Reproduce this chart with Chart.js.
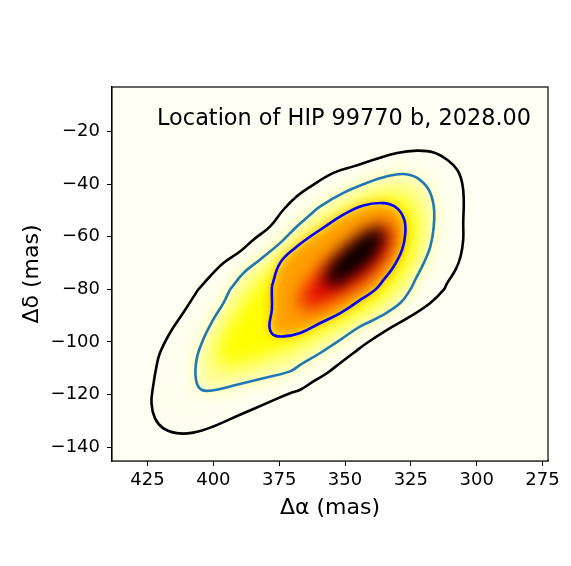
<!DOCTYPE html>
<html>
<head>
<meta charset="utf-8">
<script src="https://cdn.jsdelivr.net/npm/chart.js@4"></script>
<style>
  html, body { margin: 0; padding: 0; background: #fff; }
  #wrap { width: 571px; height: 566px; }
</style>
</head>
<body>
<div id="wrap"><canvas id="kdeChart" width="571" height="566"></canvas></div>
<script>
const FONT = "'DejaVu Sans', 'Liberation Sans', sans-serif";

// axes (Δα runs right to left)
const xRange = [272.9, 438.5];
const yRange = [-145.3, -3.0];
const xTicks = [425, 400, 375, 350, 325, 300, 275];
const yTicks = [-20, -40, -60, -80, -100, -120, -140];
const annotation = 'Location of HIP 99770 b, 2028.00';

// contour lines, [Δα, Δδ] in mas
const outerContour = [
  [405.8, -80.1], [401.3, -75.1], [396.2, -70.0], [389.9, -65.6], [384.8, -61.1],
  [378.5, -56.1], [373.4, -49.7], [368.3, -44.6], [363.9, -41.4], [354.4, -35.7],
  [346.8, -33.2], [339.1, -30.7], [330.2, -28.1], [322.6, -27.2], [316.3, -27.9],
  [311.2, -30.7], [307.4, -34.5], [305.5, -39.5], [304.9, -45.9], [305.1, -54.8],
  [305.1, -61.1], [306.1, -67.5], [308.0, -72.5], [311.2, -77.6], [312.5, -80.1],
  [317.6, -85.2], [325.2, -90.3], [334.0, -95.4], [341.7, -100.4], [346.8, -104.2],
  [351.8, -108.0], [356.9, -111.9], [362.0, -115.0], [367.0, -118.2], [370.9, -119.5],
  [379.7, -123.3], [389.9, -127.7], [400.1, -132.2], [407.7, -134.5], [414.0, -134.7],
  [419.1, -132.8], [422.2, -129.0], [423.5, -123.3], [422.9, -117.0], [421.6, -109.3],
  [420.3, -104.2], [416.5, -96.6], [411.5, -89.0], [405.8, -80.1]
];
const middleContour = [
  [393.7, -80.1], [388.6, -73.8], [382.3, -68.7], [374.7, -62.4], [368.3, -56.1],
  [363.2, -51.6], [359.4, -48.4], [350.6, -43.3], [341.7, -39.5], [334.0, -37.0],
  [327.7, -36.1], [322.6, -37.6], [318.2, -42.1], [316.3, -48.4], [316.3, -56.1],
  [317.6, -63.7], [320.1, -70.0], [323.3, -76.3], [325.2, -80.1], [329.0, -85.2],
  [336.6, -90.3], [344.2, -94.1], [351.8, -99.2], [359.4, -104.2], [367.0, -108.7],
  [370.9, -111.2], [381.0, -113.8], [391.1, -116.3], [398.8, -118.2], [404.5, -118.2],
  [406.6, -114.4], [406.4, -106.8], [403.9, -99.2], [400.1, -91.6], [396.2, -85.2],
  [393.7, -80.1]
];
const innerContour = [
  [377.8, -78.9], [374.7, -70.0], [368.3, -63.7], [363.2, -59.9], [359.4, -57.3],
  [350.6, -51.6], [343.0, -48.1], [335.3, -47.2], [330.2, -49.1], [327.5, -53.5],
  [327.1, -58.6], [328.3, -64.9], [331.5, -71.3], [335.3, -76.3], [338.5, -80.1],
  [344.2, -84.0], [351.8, -89.0], [359.4, -92.8], [367.0, -96.6], [373.4, -97.9],
  [377.2, -97.3], [378.7, -94.1], [377.8, -87.8], [377.8, -81.4], [377.8, -78.9]
];

// density shading zones
const yellowZone = [
  [399.4, -106.8], [395.6, -95.4], [388.0, -84.0], [381.5, -76.3], [372.8, -68.0],
  [363.2, -60.4], [351.8, -52.7], [340.4, -45.9], [330.9, -44.0], [324.4, -47.8],
  [322.1, -55.4], [323.7, -66.8], [329.0, -76.3], [336.6, -84.0], [348.0, -90.8],
  [359.4, -96.5], [370.9, -102.2], [384.2, -106.8], [393.7, -109.8]
];
const redCore = [
  [367.8, -85.9], [365.1, -79.4], [359.4, -72.5], [352.6, -66.8], [346.1, -61.9],
  [339.6, -57.3], [334.3, -55.0], [332.0, -57.3], [332.8, -64.2], [336.6, -70.6],
  [342.3, -76.3], [349.9, -81.3], [357.5, -85.1], [364.0, -87.8]
];
const darkCore = [
  [358.3, -76.9], [355.3, -70.0], [349.5, -64.0], [343.5, -59.0], [337.5, -56.1],
  [334.7, -58.0], [336.1, -64.0], [340.5, -70.0], [347.5, -75.4], [354.4, -79.3]
];

const plotBackground = '#fffff6';
const shadeLevels = [
  { poly: outerContour, color: '#fffff0', blur: 8 },
  { poly: middleContour, color: '#ffff90', blur: 9 },
  { poly: yellowZone, color: '#ffff00', blur: 9 },
  { poly: innerContour, color: '#ffa000', blur: 6 },
  { poly: redCore, color: '#e60000', blur: 9 },
  { poly: darkCore, color: '#000000', blur: 8 }
];

const toPoints = (arr) => arr.map(([x, y]) => ({ x, y }));
const minus = (v) => String(v).replace('-', '\u2212');

const shadingPlugin = {
  id: 'kdeShading',
  beforeDatasetsDraw(chart) {
    const { ctx, chartArea: a, scales: { x, y } } = chart;
    ctx.save();
    ctx.beginPath();
    ctx.rect(a.left, a.top, a.right - a.left, a.bottom - a.top);
    ctx.clip();
    ctx.fillStyle = plotBackground;
    ctx.fillRect(a.left, a.top, a.right - a.left, a.bottom - a.top);
    shadeLevels.forEach(({ poly, color, blur }) => {
      ctx.filter = `blur(${blur}px)`;
      ctx.beginPath();
      poly.forEach(([vx, vy], i) => {
        const px = x.getPixelForValue(vx);
        const py = y.getPixelForValue(vy);
        if (i === 0) ctx.moveTo(px, py); else ctx.lineTo(px, py);
      });
      ctx.closePath();
      ctx.fillStyle = color;
      ctx.fill();
    });
    ctx.restore();
  }
};

const framePlugin = {
  id: 'frame',
  afterDraw(chart) {
    const { ctx, chartArea: a } = chart;
    ctx.save();
    ctx.strokeStyle = '#000';
    ctx.lineWidth = 1.2;
    ctx.strokeRect(a.left, a.top, a.right - a.left, a.bottom - a.top);
    ctx.fillStyle = '#000';
    ctx.font = `22.4px ${FONT}`;
    ctx.textAlign = 'right';
    ctx.textBaseline = 'alphabetic';
    ctx.fillText(annotation, a.right - 17, a.top + 38);
    ctx.restore();
  }
};

const lineSet = (data, color) => ({
  data: toPoints(data),
  showLine: true,
  borderColor: color,
  borderWidth: 2.6,
  pointRadius: 0,
  fill: false,
  tension: 0.4
});

new Chart(document.getElementById('kdeChart'), {
  type: 'scatter',
  data: {
    datasets: [
      lineSet(outerContour, '#000000'),
      lineSet(middleContour, '#1f77b4'),
      lineSet(innerContour, '#0000ff')
    ]
  },
  options: {
    responsive: false,
    devicePixelRatio: 1,
    animation: false,
    layout: { padding: { top: 87, right: 23, left: 0, bottom: 0 } },
    plugins: { legend: { display: false }, tooltip: { enabled: false } },
    scales: {
      x: {
        type: 'linear',
        reverse: true,
        min: xRange[0],
        max: xRange[1],
        afterBuildTicks: (scale) => { scale.ticks = xTicks.map(value => ({ value })); },
        afterFit: (scale) => { scale.height = 105; },
        grid: { drawOnChartArea: false, drawTicks: true, tickLength: 5, color: '#000', lineWidth: 1 },
        border: { display: true, color: '#000', width: 1.2 },
        ticks: {
          color: '#000', padding: 4, maxRotation: 0,
          font: { family: FONT, size: 18 },
          callback: (v) => minus(v)
        },
        title: {
          display: true, text: 'Δα (mas)', color: '#000',
          font: { family: FONT, size: 22 },
          padding: { top: 0, bottom: 44.8 }
        }
      },
      y: {
        type: 'linear',
        min: yRange[0],
        max: yRange[1],
        afterBuildTicks: (scale) => { scale.ticks = yTicks.map(value => ({ value })); },
        afterFit: (scale) => { scale.width = 112; },
        grid: { drawOnChartArea: false, drawTicks: true, tickLength: 5, color: '#000', lineWidth: 1 },
        border: { display: true, color: '#000', width: 1.2 },
        ticks: {
          color: '#000', padding: 7,
          font: { family: FONT, size: 18 },
          callback: (v) => minus(v)
        },
        title: {
          display: true, text: 'Δδ (mas)', color: '#000',
          font: { family: FONT, size: 22 },
          padding: { top: 18.8, bottom: 0 }
        }
      }
    }
  },
  plugins: [shadingPlugin, framePlugin]
});
</script>
</body>
</html>
